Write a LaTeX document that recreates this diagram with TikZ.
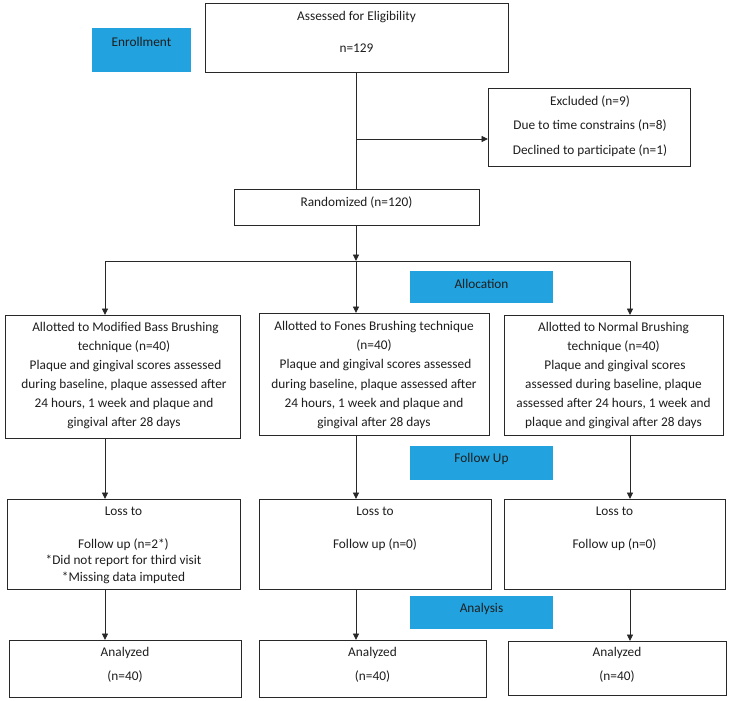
\documentclass[tikz,border=0pt]{standalone}
\usepackage{fontspec}
\setmainfont{Carlito}
\usetikzlibrary{arrows.meta}
\definecolor{bluefill}{RGB}{34,162,222}
\definecolor{linecol}{RGB}{40,40,40}
\definecolor{txtcol}{RGB}{30,30,30}
\begin{document}
\begin{tikzpicture}[x=1pt,y=-1pt,
  box/.style={draw=linecol, line width=0.9pt, fill=white, anchor=north west, inner sep=0pt},
  bluebox/.style={fill=bluefill, anchor=north west, inner sep=0pt},
  txt/.style={text=txtcol, align=center, inner sep=0pt, font=\fontsize{13.3}{19}\selectfont},
  conn/.style={draw=linecol, line width=0.9pt},
  arr/.style={conn, -{Triangle[length=6.5pt,width=6pt]}}
]
\useasboundingbox (0,0) rectangle (729,701);

% Enrollment
\node[bluebox, minimum width=99pt, minimum height=44pt] (enr) at (92,28) {};
\node[txt] (enrt) at (141.5,42) {Enrollment};

% Assessed
\node[box, minimum width=303pt, minimum height=69pt] (ass) at (205,3) {};
\node[txt] (asst) at (356.5,32) {Assessed for Eligibility\\[13pt]n=129};

% Excluded
\node[box, minimum width=202pt, minimum height=78pt] (exc) at (488,88) {};
\node[txt, font=\fontsize{13.3}{24.5}\selectfont] (exct) at (590,126) {Excluded (n=9)\\Due to time constrains (n=8)\\Declined to participate (n=1)};

% Randomized
\node[box, minimum width=245pt, minimum height=36pt] (ran) at (234,189) {};
\node[txt] (rant) at (356.5,203) {Randomized (n=120)};

% Allocation
\node[bluebox, minimum width=143pt, minimum height=32pt] (alc) at (410,271) {};
\node[txt] (alct) at (481.5,284) {Allocation};

% Allotted boxes
\node[box, minimum width=235pt, minimum height=123pt] (a1) at (5,315) {};
\node[txt] (a1t) at (124,376) {\ Allotted to Modified Bass Brushing\\technique (n=40)\\\ Plaque and gingival scores assessed\\during baseline, plaque assessed after\\24 hours, 1 week and plaque and\\gingival after 28 days};
\node[box, minimum width=230pt, minimum height=122pt] (a2) at (259,313) {};
\node[txt, font=\fontsize{13.3}{19.2}\selectfont] (a2t) at (374,375) {Allotted to Fones Brushing technique\\(n=40)\\\ Plaque and gingival scores assessed\\during baseline, plaque assessed after\\24 hours, 1 week and plaque and\\gingival after 28 days};
\node[box, minimum width=219pt, minimum height=120pt] (a3) at (504,315) {};
\node[txt] (a3t) at (613.5,376) {Allotted to Normal Brushing\\technique (n=40)\\\ Plaque and gingival scores\\assessed during baseline, plaque\\assessed after 24 hours, 1 week and\\plaque and gingival after 28 days};

% Follow Up
\node[bluebox, minimum width=143pt, minimum height=34pt] (fol) at (410,446) {};
\node[txt] (folt) at (481.5,459) {Follow Up};

% Loss boxes
\node[box, minimum width=233pt, minimum height=90pt] (l1) at (7,499) {};
\node[txt, font=\fontsize{13.3}{16.5}\selectfont] (l1t) at (123.5,545) {Loss to\\[16.5pt]Follow up (n=2*)\\*Did not report for third visit\\*Missing data imputed};
\node[box, minimum width=232pt, minimum height=90pt] (l2) at (259,499) {};
\node[txt, font=\fontsize{13.3}{16.5}\selectfont] (l2t) at (375,529) {Loss to\\[16.5pt]Follow up (n=0)};
\node[box, minimum width=221pt, minimum height=90pt] (l3) at (504,499) {};
\node[txt, font=\fontsize{13.3}{16.5}\selectfont] (l3t) at (614.5,529) {Loss to\\[16.5pt]Follow up (n=0)};

% Analysis
\node[bluebox, minimum width=143pt, minimum height=33pt] (ana) at (410,596) {};
\node[txt] (anat) at (481.5,609) {Analysis};

% Analyzed boxes
\node[box, minimum width=232pt, minimum height=57pt] (z1) at (9,640) {};
\node[txt, font=\fontsize{13.3}{24}\selectfont] (z1t) at (125,665) {Analyzed\\(n=40)};
\node[box, minimum width=227pt, minimum height=57pt] (z2) at (259,640) {};
\node[txt, font=\fontsize{13.3}{24}\selectfont] (z2t) at (372.5,665) {Analyzed\\(n=40)};
\node[box, minimum width=218pt, minimum height=54pt] (z3) at (508,641) {};
\node[txt, font=\fontsize{13.3}{24}\selectfont] (z3t) at (617,665) {Analyzed\\(n=40)};

% Coordinates for connectors
\coordinate (br) at (356,139);
\coordinate (hl) at (105,261);
\coordinate (hm) at (356,261);
\coordinate (hr) at (630,261);

% Connectors
\draw[conn] (hm |- ass.south) -- (hm |- ran.north);
\draw[arr] (br) -- (br -| exc.west);
\draw[arr] (hm |- ran.south) -- (hm);
\draw[conn] (hl) -- (hr);
\draw[arr] (hl) -- (hl |- a1.north);
\draw[arr] (hm) -- (hm |- a2.north);
\draw[arr] (hr) -- (hr |- a3.north);

\draw[arr] (hl |- a1.south) -- (hl |- l1.north);
\draw[arr] (hm |- a2.south) -- (hm |- l2.north);
\draw[arr] (hr |- a3.south) -- (hr |- l3.north);

\draw[arr] (hl |- l1.south) -- (hl |- z1.north);
\draw[arr] (hm |- l2.south) -- (hm |- z2.north);
\draw[arr] (hr |- l3.south) -- (hr |- z3.north);
\end{tikzpicture}
\end{document}
